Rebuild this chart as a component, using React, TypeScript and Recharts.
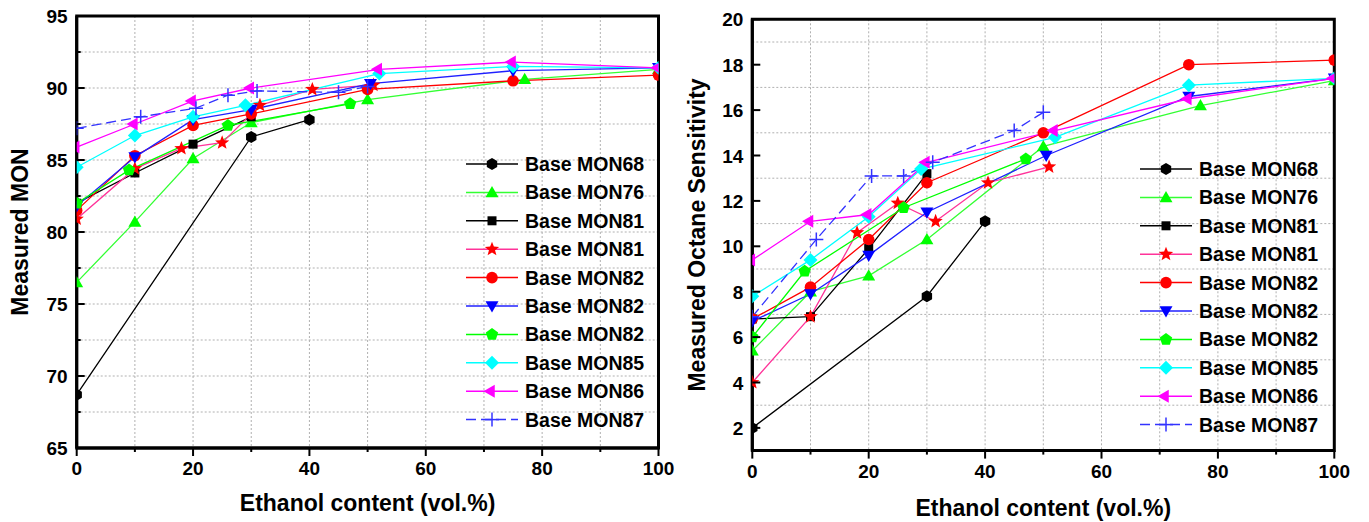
import { LineChart, Line, XAxis, YAxis, CartesianGrid, ReferenceArea, Legend } from "recharts";

// ethanol content (vol.%) for each base fuel
const ethMon68 = [0, 30, 40];
const ethMon76 = [0, 10, 20, 30, 50, 77, 100];
const ethMon81a = [0, 10, 20, 30];
const ethMon81b = [0, 10, 18, 25, 31.5, 40.5, 51];
const ethMon82a = [0, 10, 20, 30, 50, 75, 100];
const ethMon82b = [0, 10, 20, 30, 50.5, 75, 100];
const ethMon82c = [0, 9, 26, 47];
const ethMon85 = [0, 10, 20, 29, 52, 75, 100];
const ethMon86 = [0, 10, 20, 30, 52, 75, 100];
const ethMon87 = [0, 11, 20.5, 26, 31, 45, 50];

// measured MON
const monMon68 = [68.7, 86.6, 87.8];
const monMon76 = [76.5, 80.7, 85.1, 87.6, 89.2, 90.6, 91.3];
const monMon81a = [82.0, 84.1, 86.1, 88.0];
const monMon81b = [80.9, 84.4, 85.8, 86.2, 88.8, 89.9, 90.2];
const monMon82a = [81.5, 85.3, 87.4, 88.2, 89.9, 90.5, 90.9];
const monMon82b = [81.8, 85.2, 87.8, 88.5, 90.3, 91.2, 91.4];
const monMon82c = [82.0, 84.3, 87.4, 88.9];
const monMon85 = [84.5, 86.7, 88.0, 88.8, 91.0, 91.5, 91.4];
const monMon86 = [85.9, 87.5, 89.1, 90.0, 91.3, 91.8, 91.4];
const monMon87 = [87.2, 88.0, 88.6, 89.5, 89.8, 89.7, 90.1];

// measured octane sensitivity
const osMon68 = [2.0, 7.8, 11.1];
const osMon76 = [5.4, 8.0, 8.7, 10.3, 14.4, 16.2, 17.3];
const osMon81a = [6.8, 6.9, 9.9, 13.2];
const osMon81b = [4.0, 6.9, 10.6, 11.9, 11.1, 12.8, 13.5];
const osMon82a = [6.8, 8.2, 10.3, 12.8, 15.0, 18.0, 18.2];
const osMon82b = [6.7, 7.9, 9.6, 11.5, 14.0, 16.6, 17.4];
const osMon82c = [6.0, 8.9, 11.7, 13.85];
const osMon85 = [7.8, 9.4, 11.3, 13.4, 14.8, 17.1, 17.4];
const osMon86 = [9.4, 11.1, 11.4, 13.7, 15.1, 16.5, 17.4];
const osMon87 = [6.9, 10.3, 13.1, 13.1, 13.7, 15.1, 15.9];

const seriesNames = [
    "Base MON68", "Base MON76", "Base MON81", "Base MON81", "Base MON82",
    "Base MON82", "Base MON82", "Base MON85", "Base MON86", "Base MON87",
];

const xTicks = [0, 10, 20, 30, 40, 50, 60, 70, 80, 90, 100];
const monTicks = [65, 67.5, 70, 72.5, 75, 77.5, 80, 82.5, 85, 87.5, 90, 92.5, 95];
const osTicks = [1, 2, 3, 4, 5, 6, 7, 8, 9, 10, 11, 12, 13, 14, 15, 16, 17, 18, 19, 20];

const FONT = "'Liberation Sans', Arial, sans-serif";

type Shape = "hexagon" | "triUp" | "square" | "star" | "circle" | "triDown" | "pentagon" | "diamond" | "triLeft" | "plus";

const styles: { line: string; fill: string; shape: Shape; dash?: string }[] = [
    { line: "#000000", fill: "#000000", shape: "hexagon" },
    { line: "#33ff33", fill: "#00ff00", shape: "triUp" },
    { line: "#000000", fill: "#000000", shape: "square" },
    { line: "#ff3399", fill: "#ff0000", shape: "star" },
    { line: "#ff0000", fill: "#ff0000", shape: "circle" },
    { line: "#2020ff", fill: "#0000ff", shape: "triDown" },
    { line: "#00ff00", fill: "#00ff00", shape: "pentagon" },
    { line: "#00ffff", fill: "#00ffff", shape: "diamond" },
    { line: "#ff00ff", fill: "#ff00ff", shape: "triLeft" },
    { line: "#3333ff", fill: "#3333ff", shape: "plus", dash: "10 5" },
];

function poly(cx: number, cy: number, r: number, n: number, start: number) {
    const pts: string[] = [];
    for (let i = 0; i < n; i++) {
        const a = ((start + (360 / n) * i) * Math.PI) / 180;
        pts.push(`${cx + r * Math.cos(a)},${cy + r * Math.sin(a)}`);
    }
    return pts.join(" ");
}

function starPts(cx: number, cy: number, ro: number, ri: number) {
    const pts: string[] = [];
    for (let i = 0; i < 10; i++) {
        const r = i % 2 === 0 ? ro : ri;
        const a = ((-90 + 36 * i) * Math.PI) / 180;
        pts.push(`${cx + r * Math.cos(a)},${cy + r * Math.sin(a)}`);
    }
    return pts.join(" ");
}

function Marker({ shape, cx, cy, color }: { shape: Shape; cx: number; cy: number; color: string }) {
    switch (shape) {
        case "hexagon":
            return <polygon points={poly(cx, cy, 6, 6, -90)} fill={color} />;
        case "triUp":
            return <polygon points={poly(cx, cy + 1, 7.5, 3, -90)} fill={color} />;
        case "square":
            return <rect x={cx - 4.5} y={cy - 4.5} width={9} height={9} fill={color} />;
        case "star":
            return <polygon points={starPts(cx, cy, 7.5, 3.2)} fill={color} />;
        case "circle":
            return <circle cx={cx} cy={cy} r={5.8} fill={color} />;
        case "triDown":
            return <polygon points={poly(cx, cy - 1, 7.5, 3, 90)} fill={color} />;
        case "pentagon":
            return <polygon points={poly(cx, cy, 6.5, 5, -90)} fill={color} />;
        case "diamond":
            return <polygon points={poly(cx, cy, 7, 4, -90)} fill={color} />;
        case "triLeft":
            return <polygon points={poly(cx - 1, cy, 7.5, 3, 180)} fill={color} />;
        default:
            return (
                <g stroke={color} strokeWidth={1.5}>
                    <line x1={cx - 7} y1={cy} x2={cx + 7} y2={cy} />
                    <line x1={cx} y1={cy - 7} x2={cx} y2={cy + 7} />
                </g>
            );
    }
}

function toPoints(xs: number[], ys: number[]) {
    return xs.map((x, i) => ({ x, y: ys[i] }));
}

const ethanol = [ethMon68, ethMon76, ethMon81a, ethMon81b, ethMon82a, ethMon82b, ethMon82c, ethMon85, ethMon86, ethMon87];
const monValues = [monMon68, monMon76, monMon81a, monMon81b, monMon82a, monMon82b, monMon82c, monMon85, monMon86, monMon87];
const osValues = [osMon68, osMon76, osMon81a, osMon81b, osMon82a, osMon82b, osMon82c, osMon85, osMon86, osMon87];

function XTick(props: any) {
    const { x, y, payload } = props;
    const major = payload.value % 20 === 0;
    return (
        <g>
            <line x1={x} y1={y} x2={x} y2={y + (major ? 8 : 4)} stroke="#000" strokeWidth={2} />
            {major && (
                <text x={x} y={y + 27} textAnchor="middle" fontFamily={FONT} fontWeight="bold" fontSize={19} fill="#000">
                    {payload.value}
                </text>
            )}
        </g>
    );
}

function makeYTick(isMajor: (v: number) => boolean) {
    return function YTick(props: any) {
        const { x, y, payload } = props;
        const major = isMajor(payload.value);
        return (
            <g>
                <line x1={x} y1={y} x2={x + (major ? 8 : 4)} y2={y} stroke="#000" strokeWidth={2} />
                {major && (
                    <text x={x - 9} y={y + 7} textAnchor="end" fontFamily={FONT} fontWeight="bold" fontSize={19} fill="#000">
                        {payload.value}
                    </text>
                )}
            </g>
        );
    };
}

function LegendBox() {
    return (
        <svg width={200} height={290}>
            {seriesNames.map((name, i) => {
                const s = styles[i];
                const y = 14 + i * 28.4;
                return (
                    <g key={i}>
                        <line x1={6} y1={y} x2={58} y2={y} stroke={s.line} strokeWidth={1.5} strokeDasharray={s.dash} />
                        <Marker shape={s.shape} cx={32} cy={y} color={s.fill} />
                        <text x={65} y={y + 7} fontFamily={FONT} fontWeight="bold" fontSize={19.5} fill="#000">
                            {name}
                        </text>
                    </g>
                );
            })}
        </svg>
    );
}

const titleStyle = { fontFamily: FONT, fontWeight: "bold", fontSize: 23, fill: "#000" };

type PanelProps = {
    values: number[][];
    domain: [number, number];
    yTicks: number[];
    isMajor: (v: number) => boolean;
    yLabel: string;
    width: number;
    margin: { top: number; right: number; left: number; bottom: number };
    yAxisWidth: number;
    xAxisHeight: number;
    yTitleX: number;
    xTitleDy: number;
    legendPos: { left: number; top: number };
};

function Panel({ values, domain, yTicks, isMajor, yLabel, width, margin, yAxisWidth, xAxisHeight, yTitleX, xTitleDy, legendPos }: PanelProps) {
    const YTick = makeYTick(isMajor);
    return (
        <LineChart width={width} height={522} margin={margin}>
            <CartesianGrid
                stroke="#b0b0b0"
                strokeDasharray="2 2"
                horizontalValues={yTicks.slice(1, -1)}
                verticalValues={xTicks.slice(1, -1)}
            />
            <XAxis
                type="number"
                dataKey="x"
                domain={[0, 100]}
                ticks={xTicks}
                allowDataOverflow
                height={xAxisHeight}
                tickSize={0}
                tickMargin={0}
                tick={<XTick />}
                axisLine={{ stroke: "#000", strokeWidth: 3 }}
                tickLine={false}
                label={(p: any) => {
                    const vb = p.viewBox;
                    return (
                        <text x={vb.x + vb.width / 2} y={vb.y + xTitleDy} textAnchor="middle" dominantBaseline="central" {...titleStyle}>
                            Ethanol content (vol.%)
                        </text>
                    );
                }}
            />
            <YAxis
                type="number"
                dataKey="y"
                domain={domain}
                ticks={yTicks}
                allowDataOverflow
                width={yAxisWidth}
                tickSize={0}
                tickMargin={0}
                tick={<YTick />}
                axisLine={{ stroke: "#000", strokeWidth: 3 }}
                tickLine={false}
                label={(p: any) => {
                    const vb = p.viewBox;
                    const cy = vb.y + vb.height / 2;
                    return (
                        <text x={yTitleX} y={cy} transform={`rotate(-90 ${yTitleX} ${cy})`} textAnchor="middle" dominantBaseline="central" {...titleStyle}>
                            {yLabel}
                        </text>
                    );
                }}
            />
            <ReferenceArea x1={0} x2={100} y1={domain[0]} y2={domain[1]} fill="none" stroke="#000" strokeWidth={3} />
            {values.map((ys, i) => {
                const s = styles[i];
                return (
                    <Line
                        key={i}
                        data={toPoints(ethanol[i], ys)}
                        dataKey="y"
                        type="linear"
                        stroke={s.line}
                        strokeWidth={1.3}
                        strokeDasharray={s.dash}
                        isAnimationActive={false}
                        activeDot={false}
                        dot={(p: any) => (
                            <g key={`d${i}-${p.index}`}>
                                <Marker shape={s.shape} cx={p.cx} cy={p.cy} color={s.fill} />
                            </g>
                        )}
                    />
                );
            })}
            <Legend
                layout="vertical"
                align="center"
                verticalAlign="middle"
                content={() => <LegendBox />}
                wrapperStyle={{ left: legendPos.left, top: legendPos.top, width: 200, height: 290 }}
            />
        </LineChart>
    );
}

export default function App() {
    return (
        <div style={{ position: "absolute", left: 0, top: 0, width: 1369, height: 522, background: "#fff" }}>
            <div style={{ position: "absolute", left: 0, top: 0 }}>
                <Panel
                    values={monValues}
                    domain={[65, 95]}
                    yTicks={monTicks}
                    isMajor={(v) => v % 5 === 0}
                    yLabel="Measured MON"
                    width={680}
                    margin={{ top: 16, right: 21.5, left: 0, bottom: 0 }}
                    yAxisWidth={76.7}
                    xAxisHeight={74}
                    yTitleX={20}
                    xTitleDy={55}
                    legendPos={{ left: 460, top: 150 }}
                />
            </div>
            <div style={{ position: "absolute", left: 680, top: 0 }}>
                <Panel
                    values={osValues}
                    domain={[1, 20]}
                    yTicks={osTicks}
                    isMajor={(v) => v % 2 === 0}
                    yLabel="Measured Octane Sensitivity"
                    width={689}
                    margin={{ top: 19.3, right: 34.7, left: 0, bottom: 0 }}
                    yAxisWidth={72.3}
                    xAxisHeight={71.4}
                    yTitleX={17}
                    xTitleDy={57}
                    legendPos={{ left: 454, top: 155 }}
                />
            </div>
        </div>
    );
}
